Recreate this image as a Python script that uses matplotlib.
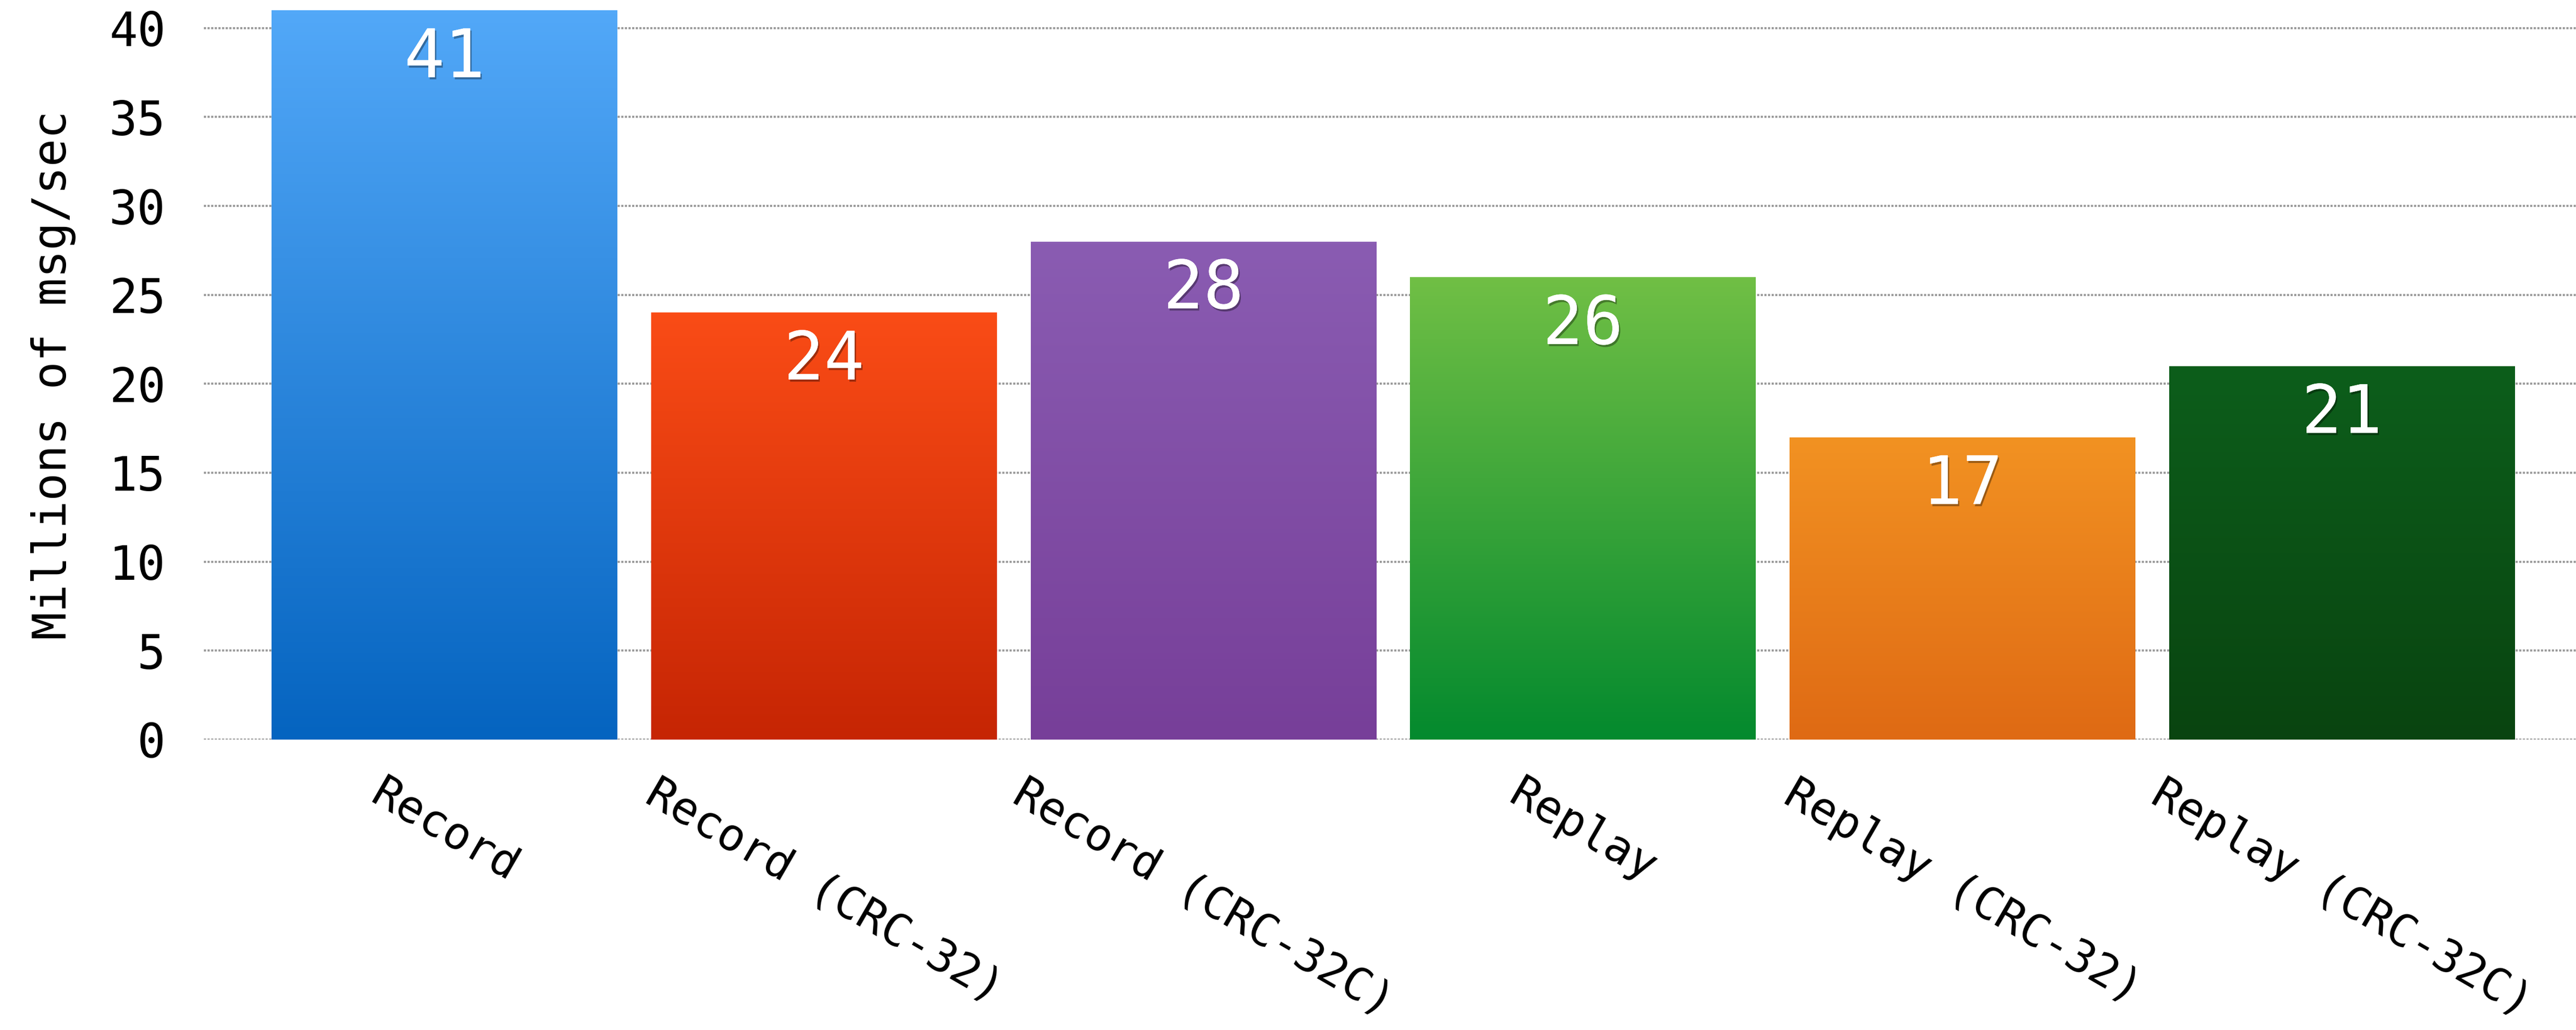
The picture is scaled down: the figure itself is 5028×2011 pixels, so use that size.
import numpy as np
import matplotlib
matplotlib.use("Agg")
import matplotlib.pyplot as plt
from matplotlib.colors import LinearSegmentedColormap
from matplotlib import patheffects

# Throughput per mode (millions of messages per second)
categories = ["Record", "Record (CRC-32)", "Record (CRC-32C)",
              "Replay", "Replay (CRC-32)", "Replay (CRC-32C)"]
values = [41, 24, 28, 26, 17, 21]
y_ticks = [0, 5, 10, 15, 20, 25, 30, 35, 40]
y_label = "Millions of msg/sec"

# Gradient colours for each bar: (top, bottom)
top_colors = ["#52A8F8", "#FA4C16", "#8A5CB2", "#70BF45", "#F29222", "#0D5E1B"]
bottom_colors = ["#0564C0", "#C62504", "#773F99", "#048A2E", "#DF6A14", "#094410"]

mono = ["DejaVu Sans Mono"]

fig = plt.figure(figsize=(50.28, 20.11), dpi=100)
ax = fig.add_axes([0.0792, 0.282, 0.9208, 0.708])

x = np.arange(len(categories))
bars = ax.bar(x, values, width=0.911, color="none", edgecolor="none", zorder=2)

grad = np.linspace(1, 0, 256).reshape(-1, 1)
for bar, c_top, c_bot in zip(bars, top_colors, bottom_colors):
    cmap = LinearSegmentedColormap.from_list("g", [c_bot, c_top])
    x0, w, h = bar.get_x(), bar.get_width(), bar.get_height()
    im = ax.imshow(grad, cmap=cmap, vmin=0, vmax=1, aspect="auto",
                   extent=[x0, x0 + w, 0, h], origin="upper", zorder=2,
                   interpolation="bicubic")
    im.set_clip_path(bar)

# Value labels inside the top of each bar
shadow = [patheffects.withSimplePatchShadow(offset=(2, -3), shadow_rgbFace="black", alpha=0.35),
          patheffects.Normal()]
for xi, v in zip(x, values):
    ax.annotate(str(v), xy=(xi, v), xytext=(0, -94), textcoords="offset points",
                ha="center", va="baseline", color="white", fontsize=94,
                family=mono, zorder=4, path_effects=shadow)

ax.set_xlim(-0.634, 5.617)
ax.set_ylim(0, 41)

ax.set_yticks(y_ticks)
ax.set_yticklabels([str(t) for t in y_ticks], family=mono, fontsize=66)
ax.set_xticks(x)
ax.set_xticklabels(categories, family=mono, fontsize=63, rotation=-30,
                   ha="center", va="top")
ax.tick_params(axis="both", length=0)
ax.tick_params(axis="y", pad=54)
ax.tick_params(axis="x", pad=46)

ax.yaxis.grid(True, color="#9a9a9a", linestyle=(0, (1.0, 0.7)), linewidth=3.0, zorder=0)
ax.set_axisbelow(True)
for s in ax.spines.values():
    s.set_visible(False)

ax.set_ylabel(y_label, family=mono, fontsize=65)
ax.yaxis.set_label_coords(-0.054, 0.5)

fig.savefig("out.png", dpi=100, facecolor="white")
